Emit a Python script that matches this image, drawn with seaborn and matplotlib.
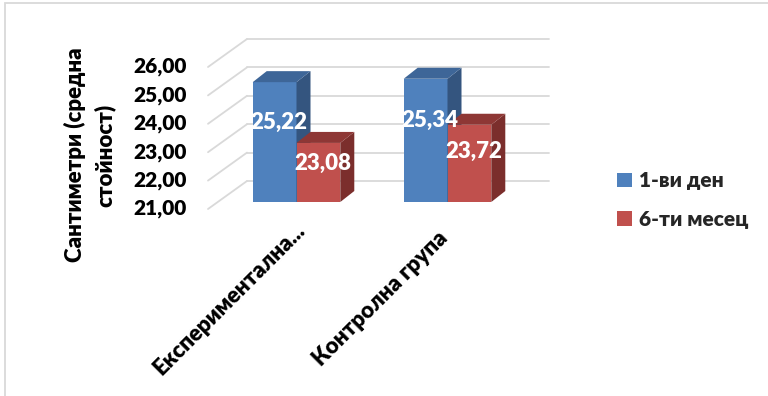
import numpy as np
import pandas as pd
import matplotlib
matplotlib.use("Agg")
import matplotlib.pyplot as plt
import matplotlib.transforms as mtransforms
from matplotlib.patches import Polygon, Rectangle
import seaborn as sns

# ---- data ----
groups = ["Експериментална група", "Контролна група"]
group_labels = ["Експериментална...", "Контролна група"]
periods = ["1-ви ден", "6-ти месец"]
day1_values = [25.22, 25.34]
month6_values = [23.08, 23.72]
y_ticks = [21, 22, 23, 24, 25, 26]
y_label = "Сантиметри (средна\nстойност)"

df = pd.DataFrame({
    "group": groups * 2,
    "period": [periods[0]] * 2 + [periods[1]] * 2,
    "value": day1_values + month6_values,
})

# ---- style ----
sns.set_theme(style="white")
plt.rcParams["font.family"] = ["Lato", "Open Sans", "DejaVu Sans"]
WEIGHT = "heavy"
plt.rcParams["font.weight"] = WEIGHT

front_colors = ["#4F81BD", "#C0504D"]
top_colors = ["#3E6698", "#8E3735"]
side_colors = ["#34557F", "#7B2E2C"]
grid_color = "#D9D9D9"
FS = 15

W, H, DPI = 768, 396, 100
fig = plt.figure(figsize=(W / DPI, H / DPI), dpi=DPI)

# chart area frame
fig.patches.append(Rectangle((5 / W, -0.1), 1.2, 1.1 - 3 / H, transform=fig.transFigure,
                             fill=False, edgecolor=grid_color, linewidth=1.3))

# axes = plane of the bars' front faces
ax_left, ax_bottom, ax_w, ax_h = 221, 202, 302, 142  # pixels (bottom measured from top)
ax = fig.add_axes([ax_left / W, (H - ax_bottom) / H, ax_w / W, ax_h / H])

sns.barplot(data=df, x="group", y="value", hue="period", order=groups, hue_order=periods,
            palette=front_colors, saturation=1, width=0.58, linewidth=0, ax=ax)
ax.set_xlim(-0.5, 1.5)
ax.set_ylim(y_ticks[0], y_ticks[-1])
ax.set_axis_off()

def shifted(px, py):
    return ax.transData + mtransforms.ScaledTranslation(px / DPI, py / DPI, fig.dpi_scale_trans)

# pixel offsets of the front and back planes relative to the bar plane
front_off = (-13, -7)
back_off = (26, 21)
x_lo, x_hi = ax.get_xlim()
base = y_ticks[0]

# back wall gridlines and the diagonal lines on the left wall
for t in y_ticks:
    ax.plot([x_lo, x_hi], [t, t], color=grid_color, lw=1.3, transform=shifted(*back_off),
            clip_on=False, zorder=0.5)
    p0 = shifted(*front_off).transform((x_lo, t))
    p1 = shifted(*back_off).transform((x_lo, t))
    ax.add_line(plt.Line2D([p0[0], p1[0]], [p0[1], p1[1]], color=grid_color, lw=1.3,
                           transform=None, clip_on=False, zorder=0.5))
    ax.text(x_lo, t, f"{t:.2f}".replace(".", ","), transform=shifted(front_off[0] - 21, front_off[1]),
            ha="right", va="center", fontsize=FS, fontweight=WEIGHT, color="black")

# depth of the bars in data units
ddx = 14 * (x_hi - x_lo) / ax_w
ddy = 11 * (y_ticks[-1] - y_ticks[0]) / ax_h

for i, cont in enumerate(ax.containers):
    for bar in cont:
        bar.set_zorder(2 + i)
        x0 = bar.get_x()
        x1 = x0 + bar.get_width()
        v = bar.get_height()
        side = Polygon([(x1, base), (x1, v), (x1 + ddx, v + ddy), (x1 + ddx, base + ddy)],
                       closed=True, facecolor=side_colors[i], edgecolor="none",
                       clip_on=False, zorder=2.5 + i)
        top = Polygon([(x0, v), (x1, v), (x1 + ddx, v + ddy), (x0 + ddx, v + ddy)],
                      closed=True, facecolor=top_colors[i], edgecolor="none",
                      clip_on=False, zorder=2.5 + i)
        ax.add_patch(side)
        ax.add_patch(top)
        ax.text(x0 + bar.get_width() / 2, base + 0.66 * (v - base), f"{v:.2f}".replace(".", ","),
                transform=shifted(4, 0), ha="center", va="center", fontsize=FS + 1,
                fontweight=WEIGHT, color="white", zorder=10, clip_on=False)

# category labels
for i, lab in enumerate(group_labels):
    ax.text(i, base, lab, transform=shifted(-67, -97), rotation=45, rotation_mode="anchor",
            ha="center", va="center", fontsize=FS + 1, fontweight=WEIGHT, color="black")

# y axis title
fig.text(90 / W, 1 - 155 / H, y_label, rotation=90, ha="center", va="center",
         multialignment="center", fontsize=FS + 1, fontweight=WEIGHT, color="black",
         linespacing=1.45)

# legend
handles, labels = ax.get_legend_handles_labels()
ax.legend(handles, labels, loc="center left", bbox_to_anchor=(617 / W, 1 - 200 / H),
          bbox_transform=fig.transFigure, frameon=False, borderpad=0,
          borderaxespad=0, handlelength=0.7, handleheight=0.7, handletextpad=0.35,
          labelspacing=0.95, prop={"weight": WEIGHT, "size": FS})

fig.savefig("out.png", dpi=DPI, facecolor="white")
